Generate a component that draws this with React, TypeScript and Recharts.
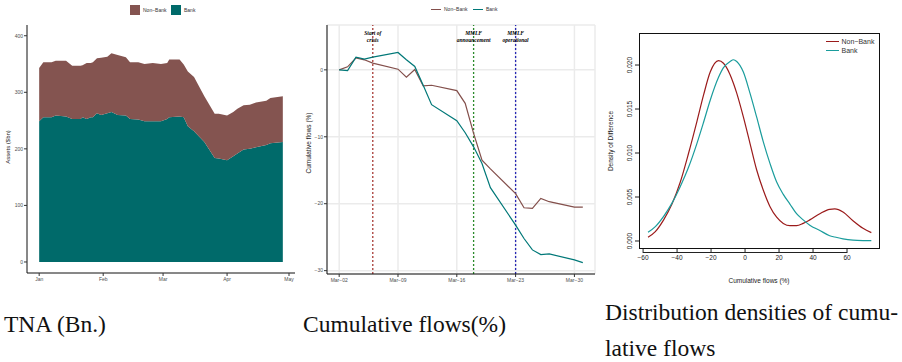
import React from "react";
import {
  AreaChart,
  Area,
  LineChart,
  Line,
  XAxis,
  YAxis,
  CartesianGrid,
  ReferenceLine,
} from "recharts";

// ---- panel 1: TNA, days since Jan 1 ----
const tnaDays = [0, 2, 6, 8, 13, 16, 20, 21, 23, 25, 26, 28, 30, 33, 35, 38, 42, 44, 48, 51, 55, 59, 62, 63, 68, 70, 72, 75, 80, 85, 87, 91, 94, 96, 99, 102, 105, 110, 112, 118];
const tnaTotal = [343, 353, 353, 356, 356, 347, 347, 348, 352, 352, 353, 360, 361, 363, 369, 366, 362, 353, 353, 350, 352, 350, 352, 358, 358, 349, 337, 327, 293, 262, 262, 259, 265, 271, 277, 278, 282, 285, 290, 293];
const tnaBank = [249, 256, 256, 259, 257, 253, 253, 256, 253, 256, 256, 263, 260, 263, 265, 260, 259, 253, 252, 249, 249, 249, 253, 256, 257, 256, 240, 231, 212, 184, 183, 180, 187, 192, 199, 200, 203, 207, 210, 212];
const monthTicks = [0, 31, 60, 91, 121];
const monthLabels = ["Jan", "Feb", "Mar", "Apr", "May"];

// ---- panel 2: cumulative flows, days since Mar 2 ----
const flowDays = [0, 1, 2, 3, 4, 7, 8, 9, 10, 11, 14, 15, 16, 17, 18, 21, 22, 23, 24, 25, 28, 29];
const flowNonBank = [0, 0.45, 1.8, 1.5, 1.0, 0.1, -1.1, 0.05, -2.4, -2.3, -3.1, -5.0, -9.5, -13.5, -14.8, -18.5, -20.6, -20.7, -19.2, -19.7, -20.5, -20.5];
const flowBank = [0, -0.1, 1.9, 1.6, 1.9, 2.6, 1.5, 0.5, -2.3, -5.2, -7.6, -9.4, -11.5, -14.0, -17.6, -23.2, -25.2, -26.9, -27.6, -27.5, -28.4, -28.8];
const weekTicks = [0, 7, 14, 21, 28];
const weekLabels = ["Mar\u221202", "Mar\u221209", "Mar\u221216", "Mar\u221223", "Mar\u221230"];
const events = [
  { day: 4, color: "#A83A36", lines: ["Start of", "crisis"] },
  { day: 16, color: "#2A8A2A", lines: ["MMLF", "announcement"] },
  { day: 21, color: "#2828B4", lines: ["MMLF", "operational"] },
];

// ---- panel 3: densities ----
const densX = [-57.1, -52.8, -47.9, -43.0, -38.1, -33.2, -28.3, -24.4, -20.5, -15.6, -12.7, -8.8, -6.8, -4.9, -1.0, 2.9, 6.8, 10.7, 14.7, 18.6, 22.5, 26.4, 30.3, 34.2, 38.1, 44.0, 49.8, 52.8, 57.6, 63.5, 69.4, 74.3];
const densNonBank = [0.00042, 0.00106, 0.0024, 0.0042, 0.0067, 0.0100, 0.0136, 0.0166, 0.0192, 0.0205, 0.0202, 0.0189, 0.0179, 0.0168, 0.0141, 0.0111, 0.0081, 0.0058, 0.0039, 0.0027, 0.0020, 0.00174, 0.00174, 0.0020, 0.0024, 0.0031, 0.0036, 0.00364, 0.0033, 0.0023, 0.00144, 0.00095];
const densBank = [0.00098, 0.00163, 0.0028, 0.0043, 0.0062, 0.0084, 0.0111, 0.0135, 0.0160, 0.0186, 0.0197, 0.0204, 0.0206, 0.0204, 0.0192, 0.0168, 0.0141, 0.0113, 0.0088, 0.0067, 0.0053, 0.0042, 0.0031, 0.0024, 0.0018, 0.0012, 0.0006, 0.00045, 0.00025, 0.0001, 0.00005, 0.00004];
const densXTicks = [-60, -40, -20, 0, 20, 40, 60];
const densYTicks = [0, 0.005, 0.01, 0.015, 0.02];

const sans = "Liberation Sans, Arial, sans-serif";
const tickStyle = { fill: "#4D4D4D", fontSize: 5, fontFamily: sans };

const minus = (v: number) => (v < 0 ? "\u2212" + Math.abs(v) : String(v));

const tnaData = tnaDays.map((d, i) => ({
  day: d,
  bank: tnaBank[i],
  nonBank: tnaTotal[i] - tnaBank[i],
}));
const flowData = flowDays.map((d, i) => ({
  day: d,
  nonBank: flowNonBank[i],
  bank: flowBank[i],
}));
const densData = densX.map((x, i) => ({
  x,
  nonBank: densNonBank[i],
  bank: densBank[i],
}));

function EventLabel(props: any) {
  const { viewBox, lines } = props;
  const x = viewBox.x;
  const y = viewBox.y;
  return (
    <g>
      {lines.map((t: string, i: number) => (
        <text
          key={i}
          x={x}
          y={y + 10 + i * 7}
          textAnchor="middle"
          fontSize={5.5}
          fontWeight="bold"
          fontStyle="italic"
          fontFamily="Liberation Serif, serif"
          fill="#000"
        >
          {t}
        </text>
      ))}
    </g>
  );
}

function RotTick(props: any) {
  const { x, y, payload } = props;
  const bx = x - 1;
  return (
    <text
      x={bx}
      y={y}
      transform={`rotate(-90 ${bx} ${y})`}
      textAnchor="middle"
      fontSize={6.5}
      fontFamily={sans}
      fill="#222"
    >
      {payload.value.toFixed(3)}
    </text>
  );
}

const abs = (l: number, t: number): React.CSSProperties => ({
  position: "absolute",
  left: l,
  top: t,
});

function SquareKey({ l, t, color, text }: any) {
  return (
    <div style={{ ...abs(l, t), display: "flex", alignItems: "center" }}>
      <div style={{ width: 10, height: 10, background: color }} />
      <span style={{ marginLeft: 3, fontSize: 5, fontFamily: sans, color: "#333" }}>{text}</span>
    </div>
  );
}

function LineKey({ l, t, color, text, w, fs }: any) {
  return (
    <div style={{ ...abs(l, t), display: "flex", alignItems: "center" }}>
      <div style={{ width: w, height: 1.3, background: color }} />
      <span style={{ marginLeft: 3, fontSize: fs, fontFamily: sans, color: "#333", lineHeight: 1 }}>{text}</span>
    </div>
  );
}

const caption: React.CSSProperties = {
  position: "absolute",
  fontFamily: "Liberation Serif, Times New Roman, serif",
  fontSize: 23.5,
  color: "#111",
  lineHeight: "36px",
  whiteSpace: "nowrap",
};

export default function App() {
  return (
    <div style={{ position: "absolute", left: 0, top: 0, width: 902, height: 362, background: "#fff", overflow: "hidden" }}>
      {/* panel 1 */}
      <div style={abs(0, 0)}>
        <AreaChart width={300} height={290} data={tnaData} margin={{ top: 25, right: 5, bottom: 0, left: 0 }}>
          <XAxis
            dataKey="day"
            type="number"
            domain={[-5.9, 123.9]}
            ticks={monthTicks}
            tickFormatter={(v) => monthLabels[monthTicks.indexOf(v)]}
            tick={tickStyle}
            tickSize={3}
            tickMargin={1}
            height={17}
            axisLine={{ stroke: "#111", strokeWidth: 1 }}
            tickLine={{ stroke: "#333" }}
          />
          <YAxis
            type="number"
            domain={[-19.5, 419]}
            ticks={[0, 100, 200, 300, 400]}
            tick={tickStyle}
            tickSize={3}
            tickMargin={1}
            width={27}
            axisLine={{ stroke: "#111", strokeWidth: 1 }}
            tickLine={{ stroke: "#333" }}
          />
          <Area type="linear" dataKey="bank" stackId="a" stroke="none" fill="#006A6A" fillOpacity={1} isAnimationActive={false} />
          <Area type="linear" dataKey="nonBank" stackId="a" stroke="none" fill="#845450" fillOpacity={1} isAnimationActive={false} />
        </AreaChart>
      </div>
      <div style={{ ...abs(8, 147), transform: "translate(-50%, -50%) rotate(-90deg)", fontSize: 6, fontFamily: sans, color: "#222", whiteSpace: "nowrap" }}>
        Assets ($bn)
      </div>
      <SquareKey l={130} t={5} color="#845450" text={"Non\u2212Bank"} />
      <SquareKey l={171} t={5} color="#006A6A" text="Bank" />

      {/* panel 2 */}
      <div style={abs(300, 0)}>
        <LineChart width={300} height={290} data={flowData} margin={{ top: 25, right: 5, bottom: 0, left: 0 }}>
          <CartesianGrid stroke="#EBEBEB" strokeWidth={1.5} />
          <XAxis
            dataKey="day"
            type="number"
            domain={[-1.45, 30.45]}
            ticks={weekTicks}
            tickFormatter={(v) => weekLabels[weekTicks.indexOf(v)]}
            tick={tickStyle}
            tickSize={3}
            tickMargin={1}
            height={16}
            axisLine={{ stroke: "#111", strokeWidth: 1 }}
            tickLine={{ stroke: "#333" }}
          />
          <YAxis
            type="number"
            domain={[-30.5, 6.7]}
            ticks={[-30, -20, -10, 0]}
            tickFormatter={minus}
            tick={tickStyle}
            tickSize={3}
            tickMargin={1}
            width={27}
            axisLine={{ stroke: "#111", strokeWidth: 1 }}
            tickLine={{ stroke: "#333" }}
          />
          {events.map((e) => (
            <ReferenceLine
              key={e.day}
              x={e.day}
              stroke={e.color}
              strokeWidth={1.3}
              strokeDasharray="2 2"
              label={<EventLabel lines={e.lines} />}
            />
          ))}
          <Line type="linear" dataKey="nonBank" stroke="#834F4B" strokeWidth={1.2} dot={false} isAnimationActive={false} />
          <Line type="linear" dataKey="bank" stroke="#007878" strokeWidth={1.2} dot={false} isAnimationActive={false} />
        </LineChart>
      </div>
      <div style={{ ...abs(308, 143), transform: "translate(-50%, -50%) rotate(-90deg)", fontSize: 6.5, fontFamily: sans, color: "#222", whiteSpace: "nowrap" }}>
        Cumulative flows (%)
      </div>
      <LineKey l={431} t={7} color="#834F4B" text={"Non\u2212Bank"} w={10} fs={5} />
      <LineKey l={473} t={7} color="#007878" text="Bank" w={10} fs={5} />

      {/* panel 3 */}
      <div style={abs(600, 0)}>
        <LineChart width={302} height={290} data={densData} margin={{ top: 33, right: 22, bottom: 0, left: 0 }}>
          <XAxis
            dataKey="x"
            type="number"
            domain={[-62.4, 79.4]}
            ticks={densXTicks}
            tickFormatter={minus}
            tick={{ fill: "#222", fontSize: 6.5, fontFamily: sans }}
            tickSize={4}
            tickMargin={2}
            height={41}
            axisLine={false}
            tickLine={{ stroke: "#222" }}
          />
          <YAxis
            type="number"
            domain={[-0.00091, 0.02364]}
            ticks={densYTicks}
            tick={<RotTick />}
            tickSize={4}
            tickMargin={2}
            width={39}
            axisLine={false}
            tickLine={{ stroke: "#222" }}
          />
          <Line type="monotone" dataKey="nonBank" stroke="#9B1B1B" strokeWidth={1.2} dot={false} isAnimationActive={false} />
          <Line type="monotone" dataKey="bank" stroke="#1A9C9C" strokeWidth={1.2} dot={false} isAnimationActive={false} />
        </LineChart>
      </div>
      <div style={{ ...abs(639, 33), width: 241, height: 216, border: "1px solid #111", boxSizing: "border-box", pointerEvents: "none" }} />
      <div style={{ ...abs(643, 252), width: 204, height: 0, borderTop: "1px solid #222" }} />
      <div style={{ ...abs(610, 141), transform: "translate(-50%, -50%) rotate(-90deg)", fontSize: 6.5, fontFamily: sans, color: "#222", whiteSpace: "nowrap" }}>
        Density of Difference
      </div>
      <div style={{ ...abs(759, 280), transform: "translate(-50%, -50%)", fontSize: 6.5, fontFamily: sans, color: "#222", whiteSpace: "nowrap" }}>
        Cumulative flows (%)
      </div>
      <LineKey l={826} t={38} color="#9B1B1B" text={"Non\u2212Bank"} w={12.5} fs={7} />
      <LineKey l={826} t={47} color="#1A9C9C" text="Bank" w={12.5} fs={7} />

      {/* captions */}
      <div style={{ ...caption, left: 4, top: 306 }}>TNA (Bn.)</div>
      <div style={{ ...caption, left: 303, top: 306 }}>Cumulative flows(%)</div>
      <div style={{ ...caption, left: 605, top: 294 }}>
        Distribution densities of cumu-
        <br />
        lative flows
      </div>
    </div>
  );
}
